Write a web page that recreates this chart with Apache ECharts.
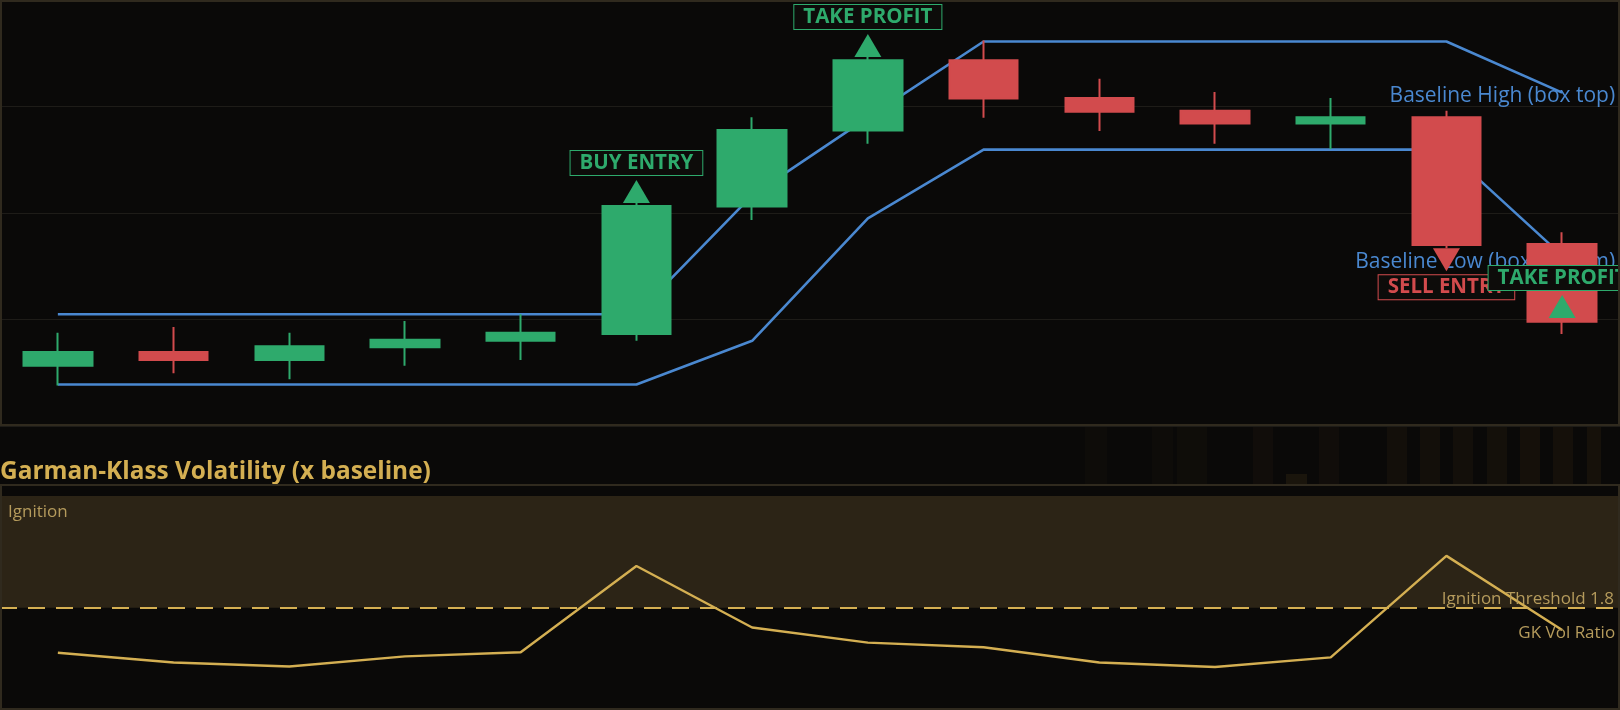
<!DOCTYPE html>
<html>
<head>
<meta charset="utf-8">
<script src="https://cdn.jsdelivr.net/npm/echarts@6/dist/echarts.min.js"></script>
<style>
html,body{margin:0;padding:0;background:#0a0908;overflow:hidden;}
#c{width:1620px;height:710px;}
</style>
</head>
<body>
<div id="c"></div>
<script>
// ---------- data ----------
const categories = ['1','2','3','4','5','6','7','8','9','10','11','12','13','14'];
const candleOpen  = [101.13, 101.39, 101.24, 101.48, 101.60, 101.73, 104.12, 105.55, 106.87, 106.16, 105.92, 105.68, 105.80, 103.42];
const candleClose = [101.39, 101.24, 101.50, 101.62, 101.75, 104.13, 105.56, 106.87, 106.15, 105.90, 105.68, 105.80, 103.40, 101.96];
const candleLow   = [100.76, 100.99, 100.88, 101.13, 101.24, 101.60, 103.87, 105.30, 105.79, 105.54, 105.30, 105.20, 103.34, 101.73];
const candleHigh  = [101.75, 101.86, 101.75, 101.97, 102.10, 104.19, 105.80, 106.93, 107.24, 106.52, 106.27, 106.16, 105.92, 103.64];
const baselineHigh = [102.10, 102.10, 102.10, 102.10, 102.10, 102.10, 104.33, 105.79, 107.22, 107.22, 107.22, 107.22, 107.22, 106.26];
const baselineLow  = [100.78, 100.78, 100.78, 100.78, 100.78, 100.78, 101.60, 103.90, 105.19, 105.19, 105.19, 105.19, 105.19, 103.20];
const gkRatio = [0.91, 0.72, 0.64, 0.84, 0.92, 2.62, 1.41, 1.11, 1.02, 0.72, 0.63, 0.82, 2.82, 1.36];
const ignitionThreshold = 1.8;
const signalIndex = [5, 7, 12, 13];
const signalPrice = [104.19, 106.93, 103.34, 102.03];
const signalText  = ['BUY ENTRY', 'TAKE PROFIT', 'SELL ENTRY', 'TAKE PROFIT'];
const signalSide  = ['up', 'up', 'down', 'up'];
const signalKind  = ['buy', 'tp', 'sell', 'tp'];

// ---------- style ----------
const GREEN = '#2eaa6c', RED = '#d24b4d', BLUE = '#4a88d0', GOLD = '#d4af52', GOLD_DIM = '#b59b5c';
const FONT = '"Open Sans", "Noto Sans", sans-serif';
const BORDER = '#302a1e';

const chart = echarts.init(document.getElementById('c'), null, {renderer: 'canvas'});

const candleData = categories.map((c, i) => [candleOpen[i], candleClose[i], candleLow[i], candleHigh[i]]);

const signalData = signalIndex.map((idx, i) => {
  const down = signalSide[i] === 'down';
  const col = signalKind[i] === 'sell' ? RED : GREEN;
  return {
    value: [idx, signalPrice[i]],
    symbol: down ? 'path://M0,0L20,0L10,17Z' : 'triangle',
    symbolOffset: [0, down ? '50%' : '-50%'],
    itemStyle: {color: col, opacity: 1},
    label: {
      show: true,
      position: down ? 'bottom' : 'top',
      distance: down ? 4 : 5,
      formatter: signalText[i],
      color: col,
      fontFamily: FONT,
      fontSize: 20.5,
      fontWeight: 'bold',
      lineHeight: 20,
      padding: [2, 9, 2, 9],
      backgroundColor: '#0d0c0a',
      borderColor: col,
      borderWidth: 1
    }
  };
});

// faint decorative bars in the strip between the panels
const stripBars = [
  [1085, 22, 0.07], [1152, 21, 0.08], [1177, 30, 0.10], [1253, 20, 0.12], [1319, 20, 0.12],
  [1387, 20, 0.16], [1420, 20, 0.16], [1453, 20, 0.16], [1487, 20, 0.17], [1520, 20, 0.18], [1553, 20, 0.18], [1587, 14, 0.2]
];
const graphics = [];
stripBars.forEach(b => {
  graphics.push({type: 'rect', z: 0, silent: true, shape: {x: b[0], y: 427, width: b[1], height: 57},
    style: {fill: 'rgba(70,52,22,' + b[2] + ')'}});
});
graphics.push({type: 'rect', z: 0, silent: true, shape: {x: 1286, y: 474, width: 21, height: 10}, style: {fill: 'rgba(90,70,30,0.2)'}});
graphics.push({type: 'rect', z: 100, silent: true, shape: {x: 1, y: 1, width: 1618, height: 424}, style: {fill: null, stroke: BORDER, lineWidth: 2}});
graphics.push({type: 'rect', z: 100, silent: true, shape: {x: 1, y: 485, width: 1618, height: 224}, style: {fill: null, stroke: BORDER, lineWidth: 2}});

const option = {
  backgroundColor: '#0a0908',
  animation: false,
  textStyle: {fontFamily: FONT},
  title: {
    text: 'Garman-Klass Volatility (x baseline)',
    left: 0, top: 460, padding: 0,
    textStyle: {color: GOLD, fontSize: 24.4, fontWeight: 'bold', fontFamily: FONT}
  },
  grid: [
    {left: 0, right: 0, top: 0, height: 426},
    {left: 0, right: 0, top: 496, height: 203}
  ],
  xAxis: [
    {type: 'category', data: categories, gridIndex: 0, boundaryGap: true, show: false},
    {type: 'category', data: categories, gridIndex: 1, boundaryGap: true, show: false}
  ],
  yAxis: [
    {type: 'value', gridIndex: 0, min: 100, max: 108, interval: 2, axisLine: {show: false}, axisTick: {show: false},
      axisLabel: {show: false}, splitLine: {show: true, lineStyle: {color: '#1e1c18', width: 1}}},
    {type: 'value', gridIndex: 1, min: 0, max: 4, show: false, splitLine: {show: false}}
  ],
  series: [
    {
      name: 'Baseline High', type: 'line', xAxisIndex: 0, yAxisIndex: 0, z: 2,
      data: baselineHigh, symbol: 'none', lineStyle: {color: BLUE, width: 2.6},
      endLabel: {show: true, formatter: 'Baseline High (box top)', color: BLUE, fontFamily: FONT, fontSize: 21,
        align: 'right', verticalAlign: 'middle', distance: 0, offset: [53, 3]}
    },
    {
      name: 'Baseline Low', type: 'line', xAxisIndex: 0, yAxisIndex: 0, z: 2,
      data: baselineLow, symbol: 'none', lineStyle: {color: BLUE, width: 2.6},
      endLabel: {show: true, formatter: 'Baseline Low (box bottom)', color: BLUE, fontFamily: FONT, fontSize: 21,
        align: 'right', verticalAlign: 'middle', distance: 0, offset: [53, 6]}
    },
    {
      name: 'Price', type: 'candlestick', xAxisIndex: 0, yAxisIndex: 0, z: 3,
      data: candleData, barWidth: 69,
      itemStyle: {color: GREEN, color0: RED, borderColor: GREEN, borderColor0: RED, borderWidth: 2}
    },
    {
      name: 'Signals', type: 'scatter', xAxisIndex: 0, yAxisIndex: 0, z: 4,
      symbolSize: [27, 23], itemStyle: {opacity: 1}, data: signalData
    },
    {
      name: 'GK Vol Ratio', type: 'line', xAxisIndex: 1, yAxisIndex: 1, z: 3,
      data: gkRatio, symbol: 'none', lineStyle: {color: GOLD, width: 2.4},
      endLabel: {show: true, formatter: 'GK Vol Ratio', color: GOLD_DIM, fontFamily: FONT, fontSize: 17,
        align: 'right', verticalAlign: 'middle', distance: 0, offset: [53, 3]},
      markArea: {
        silent: true,
        itemStyle: {color: '#2c2416'},
        label: {show: true, position: 'insideTopLeft', distance: 8, color: GOLD_DIM, fontFamily: FONT, fontSize: 17},
        data: [[{yAxis: ignitionThreshold, name: 'Ignition'}, {yAxis: 4}]]
      },
      markLine: {
        silent: true, symbol: 'none',
        lineStyle: {color: GOLD, width: 2, type: [17, 11]},
        label: {show: true, position: 'insideEndTop', distance: [6, 0], formatter: 'Ignition Threshold 1.8',
          color: GOLD_DIM, fontFamily: FONT, fontSize: 17},
        data: [{yAxis: ignitionThreshold}]
      }
    }
  ],
  graphic: graphics
};
chart.setOption(option);
</script>
</body>
</html>
